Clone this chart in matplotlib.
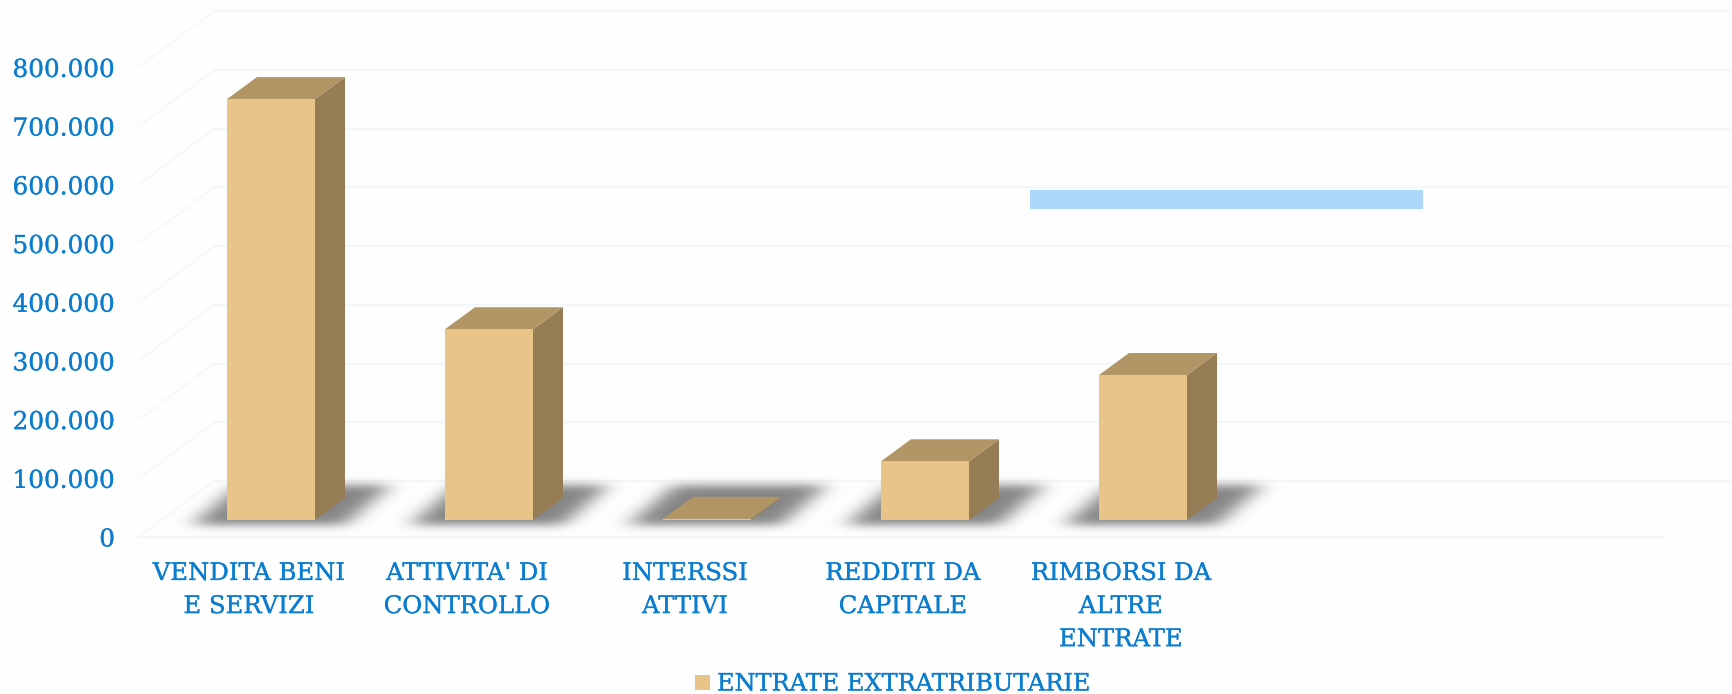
import matplotlib
matplotlib.use('Agg')
import matplotlib.pyplot as plt
from matplotlib.patches import Polygon, Rectangle
import matplotlib.patheffects as pe
import numpy as np

categories = ["VENDITA BENI\nE SERVIZI", "ATTIVITA' DI\nCONTROLLO", "INTERSSI\nATTIVI",
              "REDDITI DA\nCAPITALE", "RIMBORSI DA\nALTRE\nENTRATE"]
values = [717000, 325000, 2000, 100000, 247000]
y_ticks = [0, 100000, 200000, 300000, 400000, 500000, 600000, 700000, 800000]
y_tick_labels = ["0", "100.000", "200.000", "300.000", "400.000", "500.000", "600.000", "700.000", "800.000"]
legend_label = "ENTRATE EXTRATRIBUTARIE"

W, H = 1733, 694
PX_X = 218.0       # pixels per category
PX_Y = 58.7 / 100000  # pixels per unit of value
X0, Y0 = 271.0, 520.0  # pixel of first bar centre / bar base

BLUE = '#0B7DD0'
FRONT, TOP, SIDE = '#E9C489', '#B29565', '#967D56'
GRID = '#F3F6FB'
FONT = 'DejaVu Serif'
THICK = [pe.withStroke(linewidth=0.2, foreground=BLUE)]

fig = plt.figure(figsize=(W / 100, H / 100), dpi=100, facecolor='#FEFEFE')
ax = fig.add_axes([0, 0, 1, 1])
ax.set_xlim(-X0 / PX_X, (W - X0) / PX_X)
ax.set_ylim(-(H - Y0) / PX_Y, Y0 / PX_Y)
ax.axis('off')

def dx(px):
    return px / PX_X

def dy(px):
    return px / PX_Y

# wall and side grid lines
left = dx(139 - X0)
wall = dx(214 - X0)
right = dx(1733 - X0)
for v in y_ticks:
    ax.plot([left, wall], [v - dy(17), v + dy(39)], color='#F6F8FC', lw=1.5, zorder=1)
    ax.plot([wall, right], [v + dy(39), v + dy(39)], color=GRID, lw=1.6, zorder=1)
ax.plot([left, dx(1663 - X0)], [-dy(17), -dy(17)], color=GRID, lw=1.6, zorder=1)

# blurred bar shadows
def blur(a, sigma_y, sigma_x):
    for axis, sigma in ((0, sigma_y), (1, sigma_x)):
        r = int(sigma * 3)
        k = np.exp(-0.5 * (np.arange(-r, r + 1) / sigma) ** 2)
        k /= k.sum()
        a = np.apply_along_axis(lambda m: np.convolve(m, k, mode='same'), axis, a)
    return a

yy, xx = np.mgrid[0:H, 0:W]
mask = np.zeros((H, W))
for i in range(len(values)):
    cx = X0 + i * PX_X
    # slanted footprint behind each bar
    t = (525 - yy) / (525 - 484)
    inside = (yy > 484) & (yy < 525) & (xx > cx - 80 + t * 48) & (xx < cx + 72 + t * 48)
    mask[inside] = 1
mask = blur(mask, 4.5, 11) * 0.95
rgba = np.zeros((H, W, 4))
rgba[..., :3] = 0.5
rgba[..., 3] = np.clip(mask, 0, 1)
ax.imshow(rgba, extent=(ax.get_xlim()[0], ax.get_xlim()[1], ax.get_ylim()[0], ax.get_ylim()[1]),
          aspect='auto', zorder=2, interpolation='bilinear')

# 3d bars
bw = dx(88)
ox, oy = dx(30), dy(22)
for i, v in enumerate(values):
    l = i - bw / 2
    r = i + bw / 2
    ax.add_patch(Polygon([(r, 0), (r + ox, oy), (r + ox, v + oy), (r, v)], fc=SIDE, ec='none', zorder=3))
    ax.add_patch(Polygon([(l, v), (r, v), (r + ox, v + oy), (l + ox, v + oy)], fc=TOP, ec='none', zorder=3))
    ax.add_patch(Rectangle((l, 0), bw, v, fc=FRONT, ec='none', zorder=4))
    ax.text(i - dx(22), -dy(42), categories[i], ha='center', va='top', color=BLUE, fontsize=17.5,
            family=FONT, linespacing=1.56, zorder=5, path_effects=THICK)

# tick labels
for v, lab in zip(y_ticks, y_tick_labels):
    ax.text(dx(115 - X0), v - dy(20), lab, ha='right', va='center', color=BLUE, fontsize=17.8, family=FONT,
            path_effects=THICK)

# pale blue box over the plot
ax.add_patch(Rectangle((dx(1030 - X0), dy(Y0 - 209)), dx(393), dy(19), fc='#ABD8FC', ec='none', zorder=5))

# legend
ax.add_patch(Rectangle((dx(695 - X0), dy(Y0 - 690)), dx(15), dy(15), fc=FRONT, ec='none', zorder=5))
ax.text(dx(717 - X0), dy(Y0 - 684), legend_label, ha='left', va='center', color=BLUE, fontsize=17.3, family=FONT,
        path_effects=THICK)

fig.savefig('out.png', dpi=100, facecolor=fig.get_facecolor())
